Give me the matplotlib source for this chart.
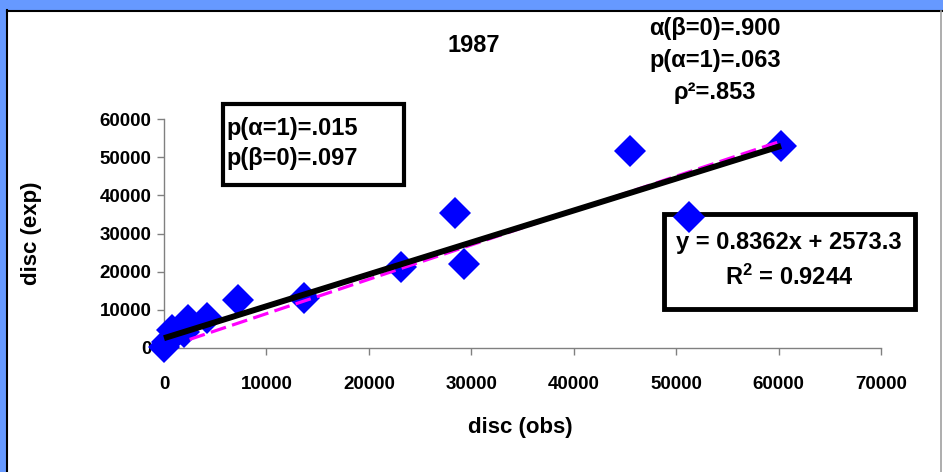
import matplotlib.pyplot as plt
from matplotlib.patches import Rectangle
from matplotlib.lines import Line2D

# observed vs expected discharge, 1987
disc_obs = [0, 300, 800, 2000, 2300, 4200, 7200, 13700,
            23100, 28400, 29300, 45500, 51250, 60250]
disc_exp = [300, 1600, 4700, 4300, 7400, 7900, 12600, 13100,
            21300, 35400, 22000, 51600, 34400, 52900]

# fitted lines
slope, intercept = 0.8362, 2573.3      # OLS trendline
slope_origin = 0.900                    # fit through origin (beta = 0)

x_ticks = [0, 10000, 20000, 30000, 40000, 50000, 60000, 70000]
y_ticks = [0, 10000, 20000, 30000, 40000, 50000, 60000]

W, H = 943, 472
FONT = "Liberation Sans"

plt.rcParams["mathtext.fontset"] = "custom"
for k in ("rm", "it", "bf"):
    plt.rcParams["mathtext." + k] = FONT + ":bold"


def fx(x):
    return x / W


def fy(y):
    return 1 - y / H


def box(x0, y0, x1, y1, lw):
    # rectangle given in pixel coords (top-left origin), kept behind the axes
    r = Rectangle((fx(x0), fy(y1)), fx(x1 - x0), (y1 - y0) / H, transform=fig.transFigure,
                  facecolor="white", edgecolor="black", lw=lw, zorder=-1)
    fig.patches.append(r)


fig = plt.figure(figsize=(W / 100, H / 100), dpi=100)
fig.patch.set_facecolor("#6699ff")

# white chart area with dark top/left edge
fig.patches.append(Rectangle((fx(7), 0), 1 - fx(7), fy(10), transform=fig.transFigure,
                             facecolor="white", edgecolor="none", zorder=-2))
fig.add_artist(Line2D([fx(6.5), fx(6.5)], [0, fy(10)], transform=fig.transFigure,
                      color="black", lw=1.5))
fig.add_artist(Line2D([fx(6.5), 1], [fy(10.5), fy(10.5)], transform=fig.transFigure,
                      color="black", lw=1.5))
fig.add_artist(Line2D([fx(941), fx(941)], [0, fy(11)], transform=fig.transFigure,
                      color="#a0a0a0", lw=1.2))

box(223, 104, 404, 185, 3)
box(664, 214, 915, 309, 3.5)

left, right, top, bottom = 164, 881, 119, 348
ax = fig.add_axes([fx(left), fy(bottom), fx(right - left), (bottom - top) / H])
ax.set_facecolor("none")
ax.set_xlim(0, 70000)
ax.set_ylim(0, 60000)

ax.plot(disc_obs, disc_exp, linestyle="none", marker="D", markersize=16,
        color="#0000ff", markeredgewidth=0, zorder=3, clip_on=False)

xs = [min(disc_obs), max(disc_obs)]
ax.plot([2500, xs[1]], [slope_origin * 2500, slope_origin * xs[1]], color="#ff00ff",
        lw=2.3, dashes=(5, 2), zorder=4, solid_capstyle="butt", clip_on=False)
ax.plot(xs, [slope * v + intercept for v in xs], color="black", lw=4.3,
        zorder=5, solid_capstyle="butt", clip_on=False)

ax.set_xticks(x_ticks)
ax.set_yticks(y_ticks)
for s in ["top", "right"]:
    ax.spines[s].set_visible(False)
for s in ["left", "bottom"]:
    ax.spines[s].set_color("#808080")
    ax.spines[s].set_linewidth(1)
ax.tick_params(axis="both", direction="out", length=5, width=1, color="#808080",
               labelsize=13.5)
ax.tick_params(axis="x", pad=15)
ax.tick_params(axis="y", pad=4)
for lab in ax.get_xticklabels() + ax.get_yticklabels():
    lab.set_fontfamily(FONT)
    lab.set_fontweight("bold")

txt = dict(family=FONT, weight="bold", fontsize=17, color="black")
lbl = dict(family=FONT, weight="bold", fontsize=16, color="black")
fig.text(fx(520), fy(428), "disc (obs)", ha="center", va="center", **lbl)
fig.text(fx(31), fy(233), "disc (exp)", ha="center", va="center", rotation=90, **lbl)
fig.text(fx(474), fy(46), "1987", ha="center", va="center", **txt)

# stats at top right
for i, s in enumerate(["α(β=0)=.900", "p(α=1)=.063", "ρ²=.853"]):
    fig.text(fx(715), fy(28 + 32.5 * i), s, ha="center", va="center", **txt)

# left box text
fig.text(fx(226), fy(128), "p(α=1)=.015", ha="left", va="center", **txt)
fig.text(fx(226), fy(158), "p(β=0)=.097", ha="left", va="center", **txt)

# trendline equation box text
fig.text(fx(789), fy(243), f"y = {slope}x + {intercept}", ha="center", va="center", **txt)
fig.text(fx(789), fy(277), "R$^{2}$ = 0.9244", ha="center", va="center", **txt)

fig.savefig("out.png", dpi=100)
